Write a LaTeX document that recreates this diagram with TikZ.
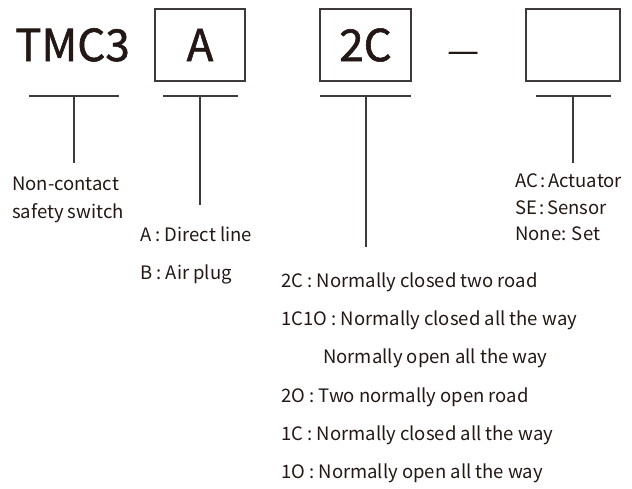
\documentclass[tikz,border=0pt]{standalone}
\usepackage{fontspec}
\setmainfont{Noto Sans CJK SC}
\newfontfamily\heavyfont{Noto Sans CJK SC}[FakeBold=1.3]
\definecolor{ink}{HTML}{231815}
\definecolor{rule}{HTML}{3E3A39}
\begin{document}
\begin{tikzpicture}[x=1pt,y=-1pt,
  codebox/.style={draw=rule,line width=1.1pt,minimum width=#1,minimum height=72pt,inner sep=0pt,text=ink,font=\heavyfont\fontsize{44}{44}\selectfont},
  big/.style={text=ink,inner sep=0pt,anchor=base,font=\heavyfont\fontsize{44}{44}\selectfont},
  lbl/.style={text=ink,inner sep=0pt,anchor=base west,font=\fontsize{18.5}{18.5}\selectfont},
  conn/.style={draw=rule,line width=1.1pt}]
\useasboundingbox (0,0) rectangle (632,488);
% code row
\node[big] (tmc) at (72.5,61) {TMC3};
\node[codebox=90pt] (boxa) at (200,45) {A};
\node[codebox=91pt] (boxc) at (365.5,45) {2C};
\node[text=ink,inner sep=0pt,anchor=base,font=\fontsize{36}{36}\selectfont] (dash) at (464,61) {\raisebox{-2pt}{—}};
\node[codebox=94pt] (boxe) at (573,45) {};
% underline bars
\coordinate (u1l) at (29,96); \coordinate (u1r) at (119,96); \coordinate (u1m) at (74,96); \coordinate (u1e) at (74,163);
\coordinate (u2l) at (163,96); \coordinate (u2r) at (238,96); \coordinate (u2m) at (200,96); \coordinate (u2e) at (200,205);
\coordinate (u3l) at (320,96); \coordinate (u3r) at (411,96); \coordinate (u3m) at (366,96); \coordinate (u3e) at (366,247);
\coordinate (u4l) at (536,96); \coordinate (u4r) at (611,96); \coordinate (u4m) at (573,96); \coordinate (u4e) at (573,163);
\draw[conn] (u1l) -- (u1r); \draw[conn] (u1m) -- (u1e);
\draw[conn] (u2l) -- (u2r); \draw[conn] (u2m) -- (u2e);
\draw[conn] (u3l) -- (u3r); \draw[conn] (u3m) -- (u3e);
\draw[conn] (u4l) -- (u4r); \draw[conn] (u4m) -- (u4e);
% labels
\node[lbl] (t1) at (12,190) {Non-contact};
\node[lbl] (t2) at (12,218) {safety switch};
\node[lbl] (a1) at (140,241) {A : Direct line};
\node[lbl] (a2) at (140,279) {B : Air plug};
\node[lbl] (e1) at (515,187) {AC\hspace{2.5pt}:\hspace{2.5pt}Actuator};
\node[lbl] (e2) at (515,214) {SE\hspace{2.5pt}:\hspace{2.5pt}Sensor};
\node[lbl] (e3) at (515,240) {None: Set};
\node[lbl] (c1) at (281,287) {2C : Normally closed two road};
\node[lbl] (c2) at (281,325) {1C1O : Normally closed all the way};
\node[lbl] (c3) at (323,363) {Normally open all the way};
\node[lbl] (c4) at (281,402) {2O : Two normally open road};
\node[lbl] (c5) at (281,440) {1C : Normally closed all the way};
\node[lbl] (c6) at (281,478) {1O : Normally open all the way};
\end{tikzpicture}
\end{document}
